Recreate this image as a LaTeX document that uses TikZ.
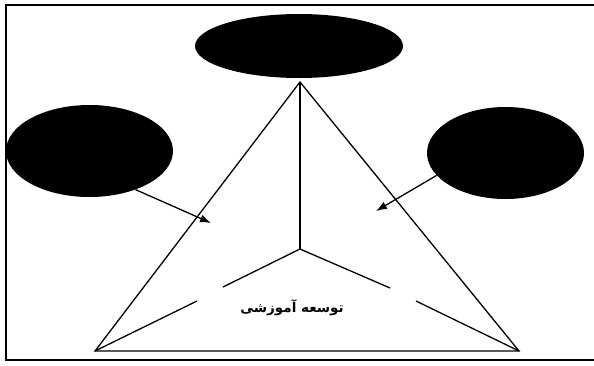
\documentclass[tikz,border=0pt]{standalone}
\usepackage{fontspec}
\newfontfamily\arabicfont[Script=Arabic]{DejaVu Sans}
\TeXXeTstate=1
\usetikzlibrary{shapes.geometric,arrows.meta}
\begin{document}
\begin{tikzpicture}[x=1pt,y=-1pt,
  blob/.style={ellipse,fill=black,draw=none,inner sep=0pt},
  edge/.style={line width=1.3pt},
  frame/.style={line width=1.8pt},
  pointer/.style={line width=1.3pt,-{Latex[length=11pt,width=8pt]}}]
\useasboundingbox (0,0) rectangle (594,365);
% frame (right side lies outside the picture)
\draw[frame] (594,5) -- (6,5) -- (6,360) -- (594,360);
% ellipses
\node[blob,minimum width=208pt,minimum height=64pt] (T) at (299,46) {};
\node[blob,minimum width=167pt,minimum height=92pt] (L) at (89.5,151) {};
\node[blob,minimum width=157pt,minimum height=92pt] (R) at (505.5,153) {};
% triangle
\coordinate (apex) at (300,82);
\coordinate (bl) at (95,351);
\coordinate (br) at (519,351);
\coordinate (ctr) at (300,249);
\coordinate (l1) at (223,287);
\coordinate (l2) at (197,301);
\coordinate (r1) at (390,288);
\coordinate (r2) at (416,301);
\draw[edge] (apex) -- (bl) -- (br) -- cycle;
\draw[edge] (apex) -- (ctr);
\draw[edge] (l1) -- (ctr) -- (r1);
\draw[edge] (l2) -- (bl);
\draw[edge] (r2) -- (br);
% arrows
\coordinate (tl) at (211,223);
\coordinate (tr) at (376,211);
\draw[pointer] (L.-40) -- (tl);
\draw[pointer] (R.-162) -- (tr);
% label
\node[font=\arabicfont\bfseries\fontsize{13.5}{16}\selectfont,inner sep=0pt] (lab) at (292,308) {\beginR توسعه آموزشی\endR};
\end{tikzpicture}
\end{document}
